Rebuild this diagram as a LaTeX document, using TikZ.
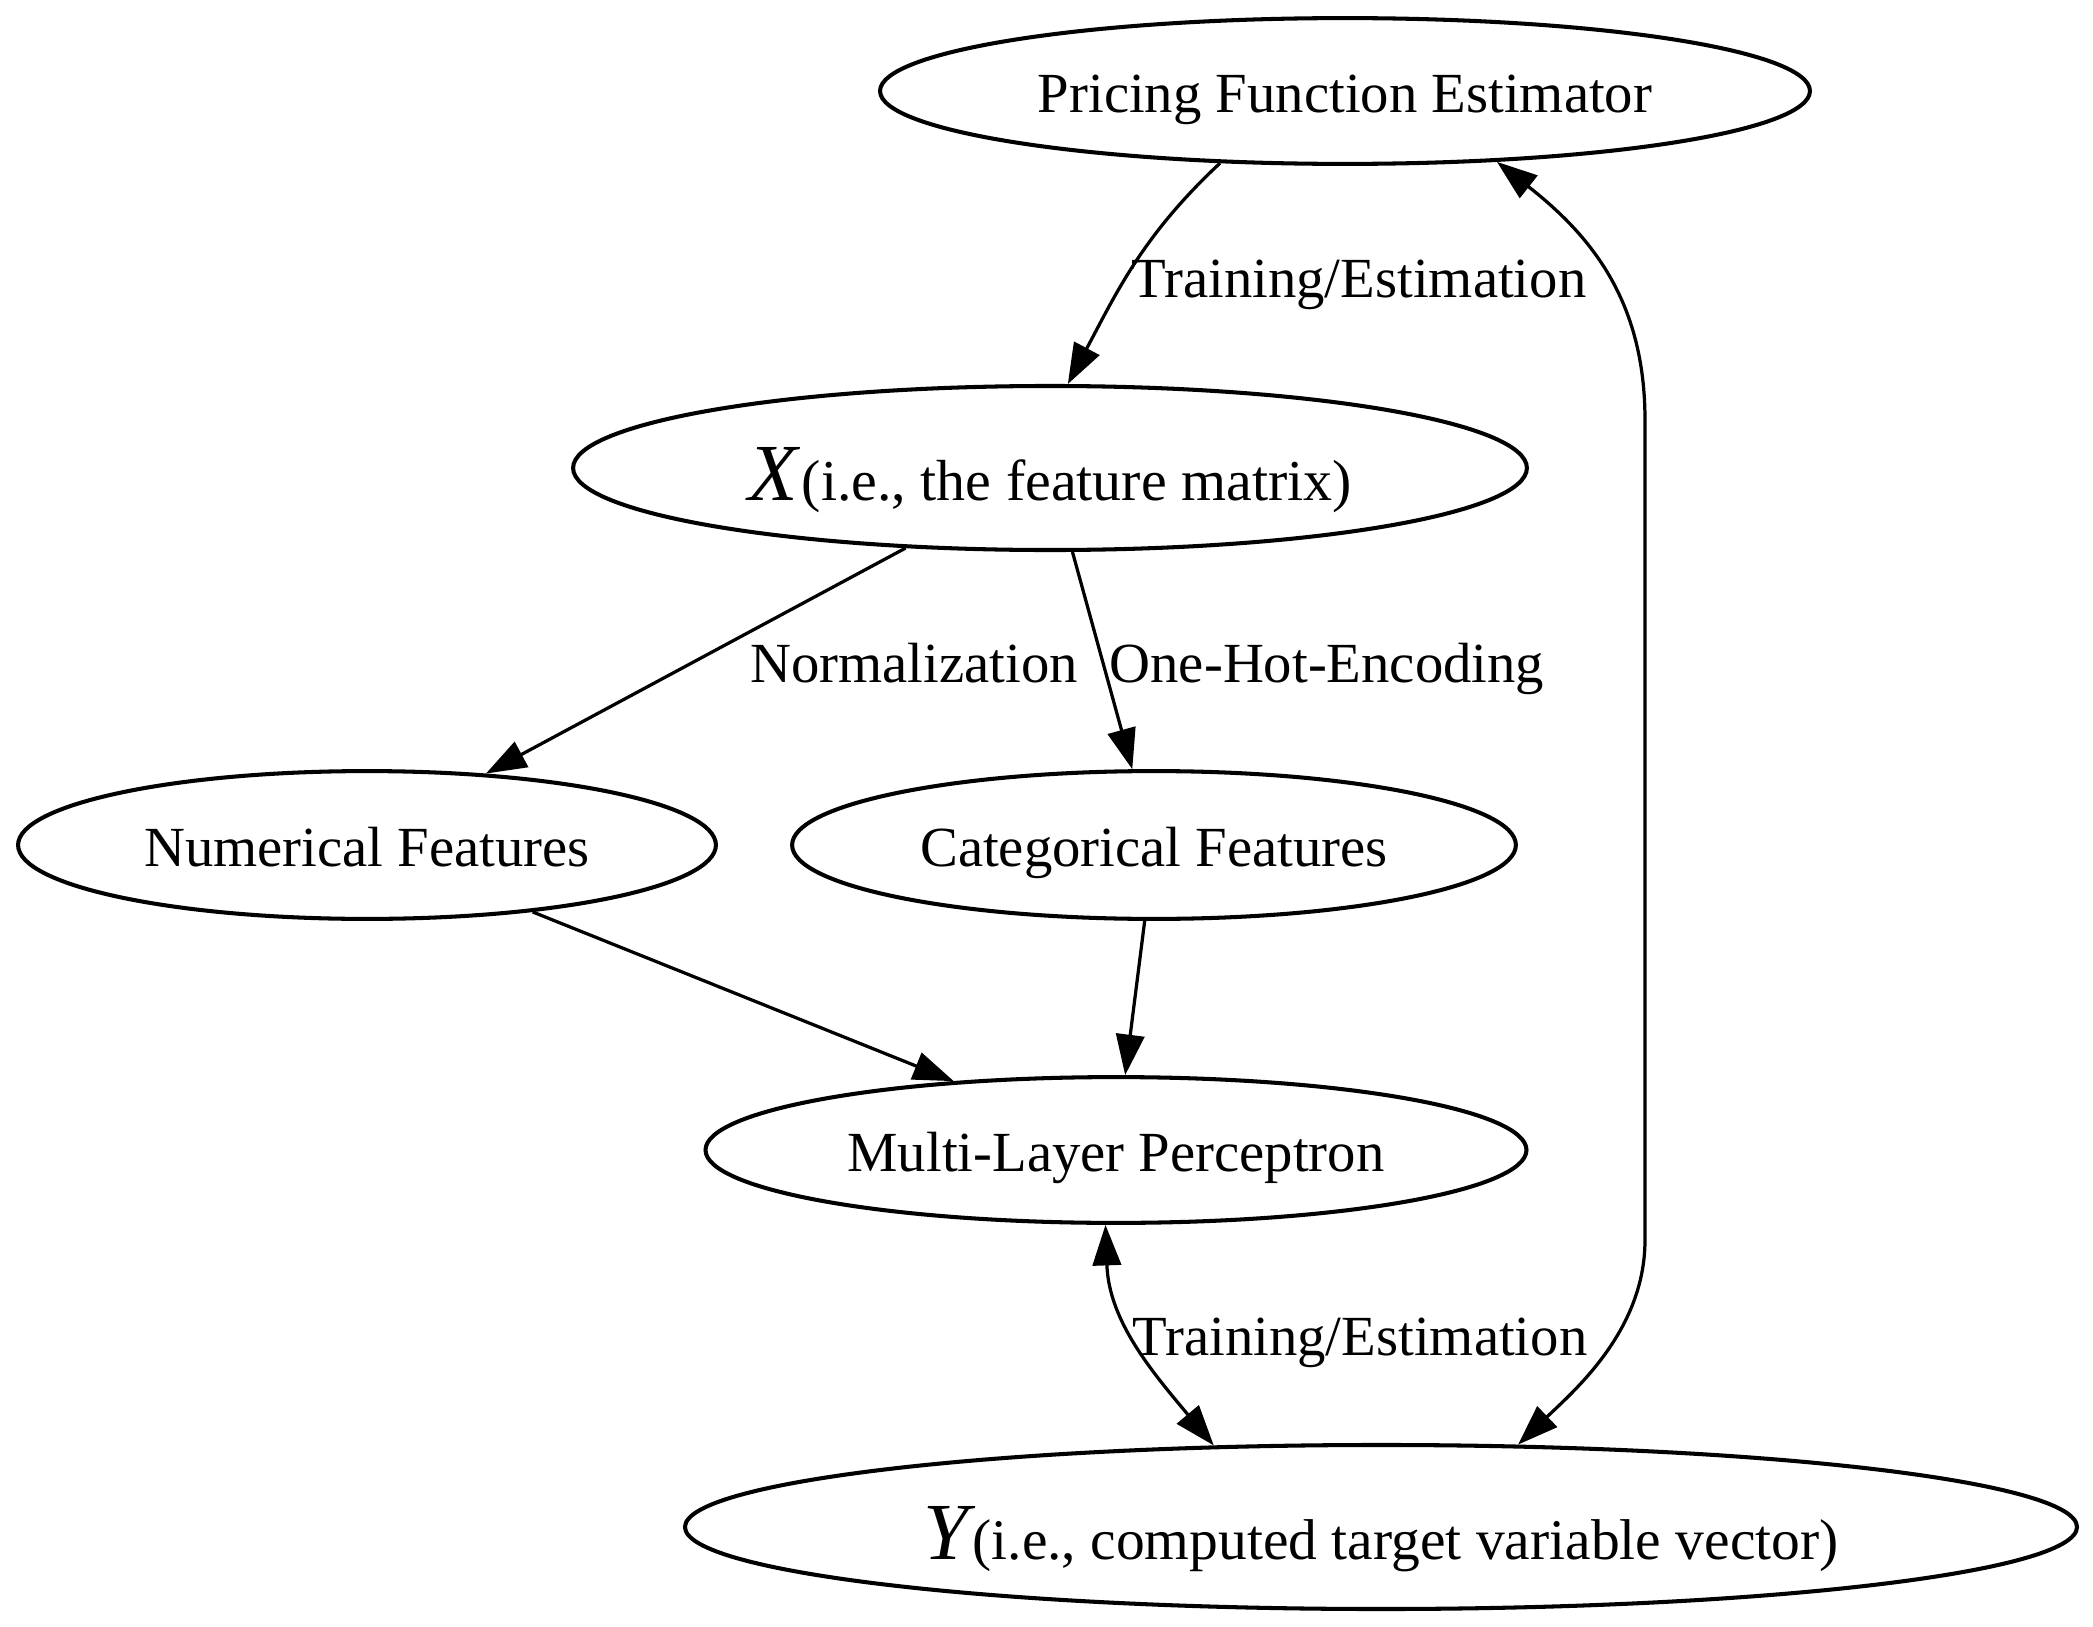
\documentclass[tikz,border=0pt]{standalone}
\usepackage{fontspec}
\setmainfont{Liberation Serif}
\usetikzlibrary{shapes.geometric,arrows.meta}
\begin{document}
\begin{tikzpicture}[x=0.2469pt,y=-0.2469pt,
  every node/.style={font=\fontsize{14}{16}\selectfont},
  elli/.style={ellipse, draw, line width=1pt, inner sep=0pt, text height=10.8pt, text depth=0pt},
  bigelli/.style={elli, text height=16pt},
  conn/.style={line width=0.8pt, -{Triangle[length=10pt,width=7pt]}},
  bconn/.style={line width=0.8pt, {Triangle[length=10pt,width=7pt]}-{Triangle[length=10pt,width=7pt]}},
  lbl/.style={inner sep=0pt, anchor=base}]
\useasboundingbox (0,0) rectangle (2093,1627);
\node[elli, minimum width=229.6pt, minimum height=36pt] (pfe) at (1345,91) {Pricing Function Estimator};
\node[bigelli, minimum width=235.5pt, minimum height=40.5pt] (x) at (1050,468) {{\fontsize{20}{20}\selectfont\itshape X}\kern1pt{\fontsize{14.3}{16}\selectfont(i.e., the feature matrix)}};
\node[elli, minimum width=172.3pt, minimum height=36.5pt] (num) at (367,845) {Numerical Features};
\node[elli, minimum width=178.7pt, minimum height=36.5pt] (cat) at (1154,845) {Categorical Features};
\node[elli, minimum width=202.7pt, minimum height=36pt] (mlp) at (1116,1150) {Multi-Layer Perceptron};
\node[bigelli, minimum width=343.7pt, minimum height=40.5pt] (yv) at (1381,1527) {{\fontsize{20}{20}\selectfont\itshape Y}\kern1pt{\fontsize{14.2}{16}\selectfont(i.e., computed target variable vector)}};

\node[lbl] (l1) at (1359,297) {Training/Estimation};
\node[lbl] (l2) at (914,682) {Normalization};
\node[lbl] (l3) at (1327,682) {One-Hot-Encoding};
\node[lbl] (l4) at (1360,1355) {Training/Estimation};

\draw[conn] (pfe.-150.9) to[out=-137, in=62] (x.78);
\draw[bconn] (pfe.-25) .. controls (1590,235) and (1645,300) .. (1645,420) -- (1645,1240) .. controls (1645,1330) and (1575,1390) .. (yv.31.5);
\draw[conn] (x.-151.8) -- (num.31.3);
\draw[conn] (x.-75.3) -- (cat.106);
\draw[conn] (num.-22.8) -- (mlp.157.2);
\draw[conn] (cat.-97.4) -- (mlp.83.2);
\draw[bconn] (mlp.-98.3) to[out=-88, in=130] (yv.154.5);
\end{tikzpicture}
\end{document}
